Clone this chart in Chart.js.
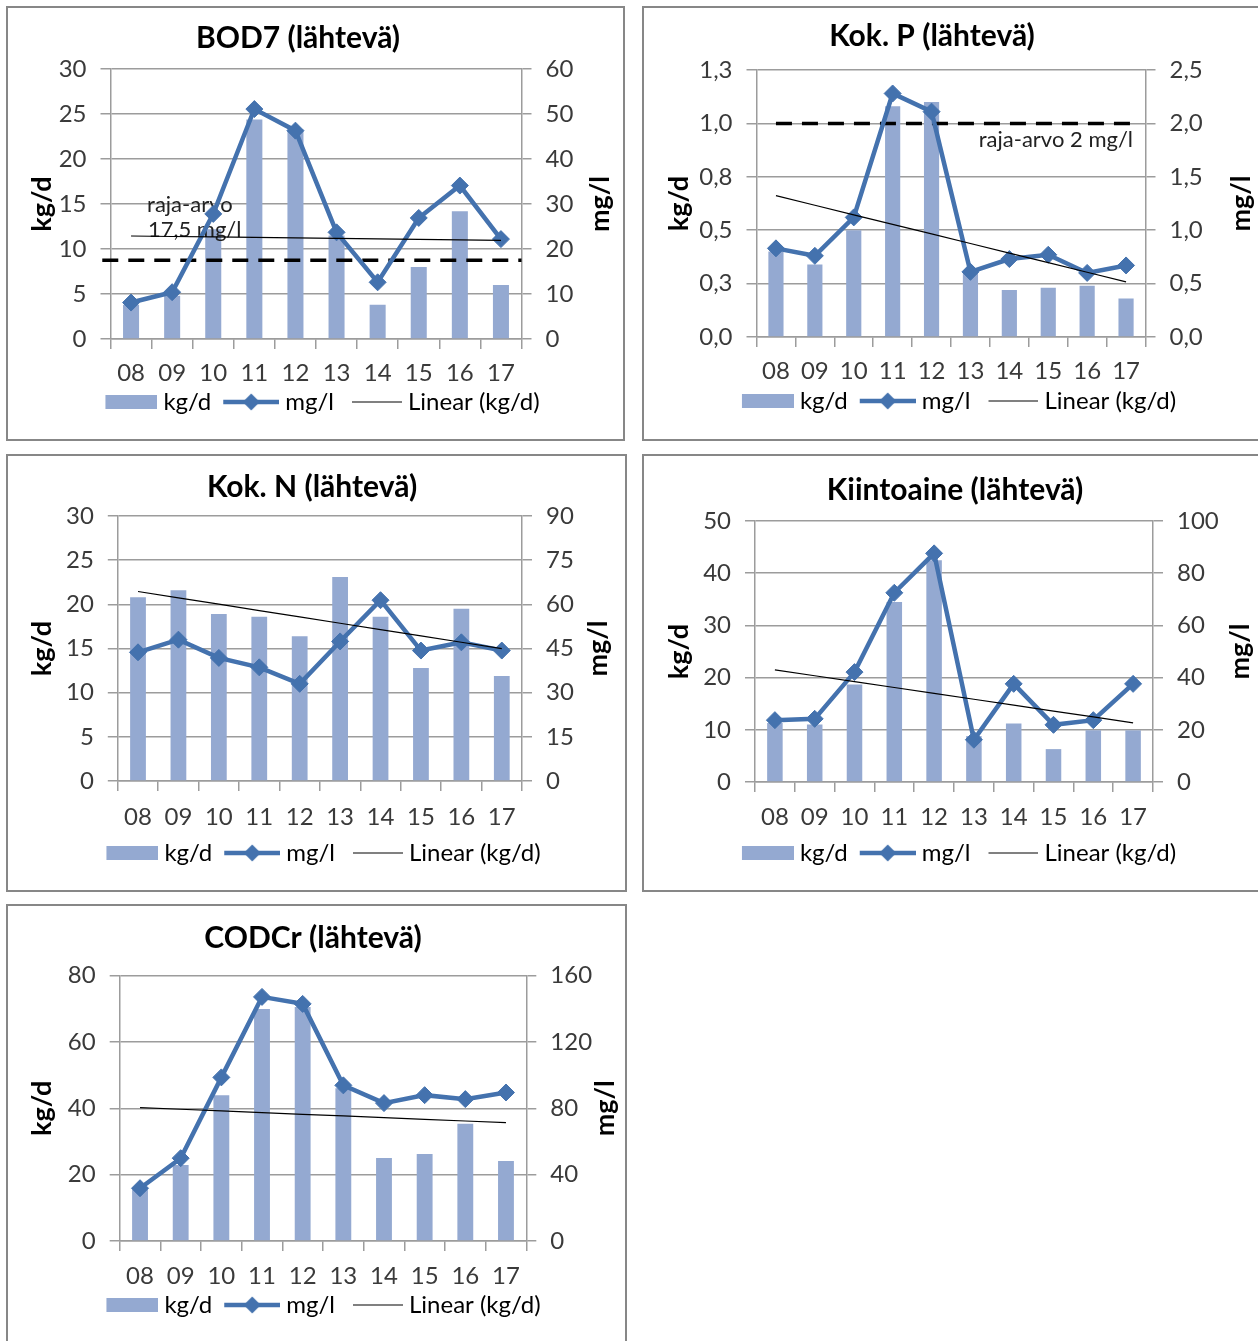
<!DOCTYPE html>
<html>
<head>
<meta charset="utf-8">
<title>Lähtevä kuormitus 2008–2017</title>
<script src="https://cdn.jsdelivr.net/npm/chart.js@4/dist/chart.umd.min.js"></script>
<style>
  html, body { margin: 0; padding: 0; background: #fff; }
  body { width: 1258px; height: 1341px; position: relative; overflow: hidden; }
  .panel { position: absolute; box-sizing: border-box; border: 2px solid #878787; background: #fff; }
  .panel canvas { display: block; }
</style>
</head>
<body>
<div class="panel" id="p1"><canvas id="c1"></canvas></div>
<div class="panel" id="p2"><canvas id="c2"></canvas></div>
<div class="panel" id="p3"><canvas id="c3"></canvas></div>
<div class="panel" id="p4"><canvas id="c4"></canvas></div>
<div class="panel" id="p5"><canvas id="c5"></canvas></div>
<script>
// Years 2008–2017
const years = ['08', '09', '10', '11', '12', '13', '14', '15', '16', '17'];

// BOD7
const bodKg = [3.8, 4.8, 12.2, 24.4, 23.3, 11.5, 3.8, 8.0, 14.2, 6.0];
const bodMg = [8.1, 10.4, 27.8, 51.1, 46.3, 23.7, 12.6, 26.9, 34.1, 22.2];
const bodLimit = 17.5;
const bodKgTicks = ['0', '5', '10', '15', '20', '25', '30'];
const bodMgTicks = ['0', '10', '20', '30', '40', '50', '60'];

// Kok. P
const pKg = [0.40, 0.34, 0.50, 1.08, 1.10, 0.31, 0.22, 0.23, 0.24, 0.18];
const pMg = [0.83, 0.76, 1.12, 2.28, 2.11, 0.61, 0.73, 0.77, 0.60, 0.67];
const pLimit = 2;
const pKgTicks = ['0,0', '0,3', '0,5', '0,8', '1,0', '1,3'];
const pMgTicks = ['0,0', '0,5', '1,0', '1,5', '2,0', '2,5'];

// Kok. N
const nKg = [20.8, 21.6, 18.9, 18.6, 16.4, 23.1, 18.6, 12.8, 19.5, 11.9];
const nMg = [43.7, 48.0, 41.8, 38.6, 33.0, 47.4, 61.4, 44.3, 47.1, 44.3];
const nKgTicks = ['0', '5', '10', '15', '20', '25', '30'];
const nMgTicks = ['0', '15', '30', '45', '60', '75', '90'];

// Kiintoaine
const ssKg = [11.3, 11.0, 18.7, 34.5, 42.5, 8.8, 11.2, 6.3, 9.9, 9.9];
const ssMg = [23.7, 24.2, 42.1, 72.5, 87.6, 16.2, 37.6, 21.9, 23.7, 37.6];
const ssKgTicks = ['0', '10', '20', '30', '40', '50'];
const ssMgTicks = ['0', '20', '40', '60', '80', '100'];

// CODCr
const codKg = [15.5, 22.9, 43.9, 69.9, 70.5, 46.0, 25.0, 26.2, 35.3, 24.1];
const codMg = [31.8, 49.9, 98.6, 147.1, 142.9, 93.8, 83.1, 87.9, 85.5, 89.5];
const codKgTicks = ['0', '20', '40', '60', '80'];
const codMgTicks = ['0', '40', '80', '120', '160'];

// ---- styling ----
const FONT = 'Lato';
const BAR_COLOR = '#94a9d1';
const LINE_COLOR = '#4472ae';
const GRID_COLOR = '#9c9c9c';
const TEXT_COLOR = '#3a3a3a';
const TICK_FS = 24;        // tick, category and legend font size
const TITLE_FS = 30;       // chart title
const AXIS_TITLE_FS = 27;  // kg/d, mg/l
const NOTE_FS = 22;        // limit-value note
const TICK_LEN = 10;
const LEGEND_PAD = 2;
const LEGEND_BOX = 60;     // legend symbol slot width

Chart.defaults.font.family = FONT;
Chart.defaults.color = TEXT_COLOR;

// least-squares straight line through the kg/d series (Excel "Linear" trendline)
function linearTrend(values) {
  const n = values.length;
  const mx = (n - 1) / 2;
  const my = values.reduce((a, b) => a + b, 0) / n;
  let sxy = 0, sxx = 0;
  values.forEach((v, i) => { sxy += (i - mx) * (v - my); sxx += (i - mx) * (i - mx); });
  const slope = sxy / sxx;
  return values.map((_, i) => my + slope * (i - mx));
}

// legend symbols: drawn right-aligned in a slot a little wider than the symbol box,
// so that the symbol sits close to its label
function swatch(symW, h, paint) {
  const w = LEGEND_BOX + 12;
  const c = document.createElement('canvas');
  c.width = w; c.height = h;
  const g = c.getContext('2d');
  g.translate(w - symW, 0);
  paint(g, symW, h);
  return c;
}
const barSwatch = swatch(52, 14, (g, w, h) => { g.fillStyle = BAR_COLOR; g.fillRect(0, 0, w, h); });
const lineSwatch = swatch(56, 18, (g, w, h) => {
  g.strokeStyle = LINE_COLOR; g.lineWidth = 4.5;
  g.beginPath(); g.moveTo(0, h / 2); g.lineTo(w, h / 2); g.stroke();
  g.fillStyle = LINE_COLOR;
  g.beginPath(); g.moveTo(w / 2, 0.5); g.lineTo(w / 2 + 8.5, h / 2); g.lineTo(w / 2, h - 0.5); g.lineTo(w / 2 - 8.5, h / 2); g.closePath(); g.fill();
});
const trendSwatch = swatch(50, 3, (g, w, h) => {
  g.strokeStyle = '#000'; g.lineWidth = 1.2;
  g.beginPath(); g.moveTo(0, h / 2); g.lineTo(w, h / 2); g.stroke();
});
const swatches = [barSwatch, lineSwatch, trendSwatch];

// chart title, limit line with its note, and the right-hand axis title
function makeOverlay(cfg) {
  return {
    id: 'overlay',
    afterDatasetDraw(chart, args) {
      if (args.index !== 0 || !cfg.limit) return;
      const { ctx, scales: { x, yR } } = chart;
      const lim = cfg.limit;
      const py = yR.getPixelForValue(lim.value);
      ctx.save();
      ctx.strokeStyle = '#000';
      ctx.lineWidth = 3.5;
      ctx.setLineDash([16, 10]);
      ctx.beginPath();
      ctx.moveTo(x.getPixelForValue(lim.from), py);
      ctx.lineTo(x.getPixelForValue(lim.to), py);
      ctx.stroke();
      ctx.setLineDash([]);
      ctx.fillStyle = '#222';
      ctx.font = NOTE_FS + 'px ' + FONT;
      ctx.textBaseline = 'middle';
      lim.notes.forEach(n => {
        ctx.textAlign = n.align;
        ctx.fillText(n.text, x.getPixelForValue(n.at), yR.getPixelForValue(n.level));
      });
      ctx.restore();
    },
    afterDraw(chart) {
      const { ctx, chartArea } = chart;
      ctx.save();
      ctx.fillStyle = '#000';
      ctx.textAlign = 'center';
      ctx.textBaseline = 'middle';
      ctx.font = 'bold ' + TITLE_FS + 'px ' + FONT;
      ctx.fillText(cfg.title, cfg.titleX, cfg.titleY);
      ctx.translate(cfg.mgX, (chartArea.top + chartArea.bottom) / 2);
      ctx.rotate(-Math.PI / 2);
      ctx.font = 'bold ' + AXIS_TITLE_FS + 'px ' + FONT;
      ctx.fillText('mg/l', 0, 0);
      ctx.restore();
    }
  };
}

function buildPanel(panelId, canvasId, frame, spec) {
  const [bx, by, bw, bh] = frame.box;
  const panel = document.getElementById(panelId);
  Object.assign(panel.style, { left: bx + 'px', top: by + 'px', width: bw + 'px', height: bh + 'px' });
  const ix = bx + 2, iy = by + 2, iw = bw - 4, ih = bh - 4;
  const canvas = document.getElementById(canvasId);
  canvas.width = iw; canvas.height = ih;

  const [pl, pr, pt, pb] = frame.plot;
  const legendTop = frame.legY - iy - LEGEND_PAD - TICK_FS / 2;
  const layoutBottom = ih - (legendTop + TICK_FS + LEGEND_PAD + 10);
  const xAxisH = legendTop - (pb - iy);
  const catPad = (frame.catY - pb) - TICK_LEN - TICK_FS * 1.2 / 2;
  const leftW = pl - ix;
  const rightW = ix + iw - pr;
  const kgTitlePad = (frame.kgX - ix) - AXIS_TITLE_FS * 1.2 / 2;

  const tickFont = { family: FONT, size: TICK_FS };

  return new Chart(canvas, {
    type: 'bar',
    data: {
      labels: years,
      datasets: [
        {
          type: 'bar', label: 'kg/d', data: spec.kg, yAxisID: 'y', order: 3,
          backgroundColor: BAR_COLOR, barPercentage: 0.39, categoryPercentage: 1
        },
        {
          type: 'line', label: 'mg/l', data: spec.mg, yAxisID: 'yR', order: 2,
          borderColor: LINE_COLOR, backgroundColor: LINE_COLOR, borderWidth: 4.5,
          pointStyle: 'rectRot', pointRadius: 8.5, pointBorderWidth: 1,
          pointBackgroundColor: LINE_COLOR, pointBorderColor: LINE_COLOR, tension: 0
        },
        {
          type: 'line', label: 'Linear (kg/d)', data: linearTrend(spec.kg), yAxisID: 'y', order: 1,
          borderColor: '#000', borderWidth: 1.2, pointRadius: 0, tension: 0
        }
      ]
    },
    options: {
      responsive: false,
      animation: false,
      events: [],
      layout: { padding: { left: 0, right: 0, top: pt - iy, bottom: layoutBottom } },
      plugins: {
        title: { display: false },
        legend: {
          position: 'bottom',
          labels: {
            usePointStyle: true, pointStyleWidth: LEGEND_BOX, padding: LEGEND_PAD,
            font: tickFont, color: TEXT_COLOR,
            generateLabels: chart => chart.data.datasets.map((ds, i) => ({
              text: ds.label, pointStyle: swatches[i], datasetIndex: i, hidden: false,
              fillStyle: 'rgba(0,0,0,0)', strokeStyle: 'rgba(0,0,0,0)', lineWidth: 0
            }))
          }
        },
        tooltip: { enabled: false }
      },
      scales: {
        x: {
          afterFit: s => { s.height = xAxisH; },
          grid: { drawOnChartArea: false, tickLength: TICK_LEN, color: GRID_COLOR, lineWidth: 1.5 },
          border: { display: true, color: GRID_COLOR, width: 1.5 },
          ticks: { font: tickFont, color: TEXT_COLOR, padding: catPad, maxRotation: 0, autoSkip: false }
        },
        y: {
          position: 'left', min: 0, max: spec.kgMax,
          afterFit: s => { s.width = leftW; },
          grid: { drawOnChartArea: true, tickLength: TICK_LEN, color: GRID_COLOR, lineWidth: 1.5 },
          border: { display: true, color: GRID_COLOR, width: 1.5 },
          ticks: {
            stepSize: spec.kgStep, font: tickFont, color: TEXT_COLOR, padding: 14, autoSkip: false,
            callback: (v, i) => spec.kgTicks[i]
          },
          title: {
            display: true, text: 'kg/d', color: '#000',
            font: { family: FONT, size: AXIS_TITLE_FS, weight: 'bold' },
            padding: { top: kgTitlePad, bottom: 0 }
          }
        },
        yR: {
          position: 'right', min: 0, max: spec.mgMax,
          afterFit: s => { s.width = rightW; },
          grid: { drawOnChartArea: false, tickLength: TICK_LEN, color: GRID_COLOR, lineWidth: 1.5 },
          border: { display: true, color: GRID_COLOR, width: 1.5 },
          ticks: {
            stepSize: spec.mgStep, font: tickFont, color: TEXT_COLOR, padding: 14, autoSkip: false,
            callback: (v, i) => spec.mgTicks[i]
          }
        }
      }
    },
    plugins: [makeOverlay({
      title: spec.title, titleX: frame.titleX - ix, titleY: frame.titleY - iy,
      limit: spec.limit, mgX: frame.mgX - ix
    })]
  });
}

// panel boxes [left, top, width, height]; plot edges [left, right, top, bottom]
buildPanel('p1', 'c1',
  { box: [6, 6, 619, 435], plot: [110.5, 521.5, 69, 339], titleX: 298, titleY: 38, catY: 373, legY: 402, kgX: 42, mgX: 600 },
  {
    title: 'BOD7 (lähtevä)', kg: bodKg, mg: bodMg,
    kgMax: 30, kgStep: 5, mgMax: 60, mgStep: 10, kgTicks: bodKgTicks, mgTicks: bodMgTicks,
    limit: {
      value: bodLimit, from: -0.7, to: 9.5,
      notes: [
        { text: 'raja-arvo', at: 0.39, level: 29.8, align: 'left' },
        { text: '17,5 mg/l', at: 0.41, level: 24.3, align: 'left' }
      ]
    }
  });

buildPanel('p2', 'c2',
  { box: [642, 6, 620, 435], plot: [756.5, 1145.5, 70, 337], titleX: 932, titleY: 36, catY: 371, legY: 401, kgX: 679, mgX: 1241 },
  {
    title: 'Kok. P (lähtevä)', kg: pKg, mg: pMg,
    kgMax: 1.25, kgStep: 0.25, mgMax: 2.5, mgStep: 0.5, kgTicks: pKgTicks, mgTicks: pMgTicks,
    limit: {
      value: pLimit, from: 0, to: 9.35,
      notes: [{ text: 'raja-arvo 2 mg/l', at: 9.18, level: 1.845, align: 'right' }]
    }
  });

buildPanel('p3', 'c3',
  { box: [6, 454, 621, 438], plot: [117.8, 522, 516, 781], titleX: 312, titleY: 487, catY: 817, legY: 853, kgX: 42, mgX: 598 },
  {
    title: 'Kok. N (lähtevä)', kg: nKg, mg: nMg,
    kgMax: 30, kgStep: 5, mgMax: 90, mgStep: 15, kgTicks: nKgTicks, mgTicks: nMgTicks
  });

buildPanel('p4', 'c4',
  { box: [642, 454, 620, 438], plot: [755, 1153, 521, 782], titleX: 955, titleY: 490, catY: 817, legY: 853, kgX: 679, mgX: 1240 },
  {
    title: 'Kiintoaine (lähtevä)', kg: ssKg, mg: ssMg,
    kgMax: 50, kgStep: 10, mgMax: 100, mgStep: 20, kgTicks: ssKgTicks, mgTicks: ssMgTicks
  });

buildPanel('p5', 'c5',
  { box: [6, 904, 621, 441], plot: [119.7, 526.3, 975.5, 1241], titleX: 313, titleY: 938, catY: 1276, legY: 1305, kgX: 42, mgX: 605 },
  {
    title: 'CODCr (lähtevä)', kg: codKg, mg: codMg,
    kgMax: 80, kgStep: 20, mgMax: 160, mgStep: 40, kgTicks: codKgTicks, mgTicks: codMgTicks
  });
</script>
</body>
</html>
